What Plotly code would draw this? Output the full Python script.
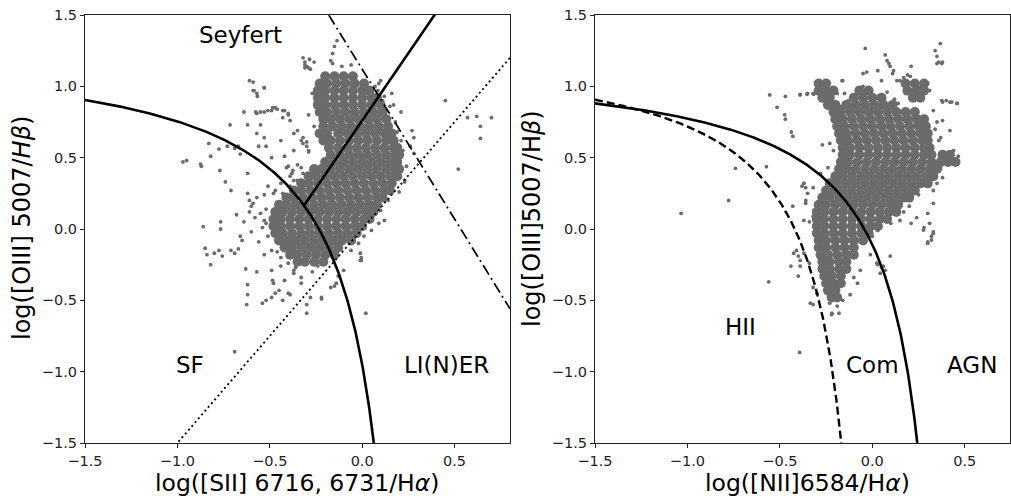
import numpy as np
import plotly.graph_objects as go

# ---------------- data ----------------
# Left panel (SII BPT): dense core, one list of x per row
left_core_y = [1.07, 1.02, 0.97, 0.92, 0.87, 0.82, 0.77, 0.72, 0.67, 0.62, 0.57, 0.52, 0.47,
               0.42, 0.37, 0.32, 0.27, 0.22, 0.17, 0.12, 0.07, 0.02, -0.03, -0.08, -0.13, -0.18, -0.23]
left_core_x = [
    [-0.20, -0.15, -0.10, -0.05],
    [-0.23, -0.19, -0.14, -0.09, -0.04, 0.01],
    [-0.24, -0.20, -0.15, -0.10, -0.05, 0.00, 0.04],
    [-0.24, -0.20, -0.15, -0.10, -0.05, 0.00, 0.05, 0.08],
    [-0.24, -0.20, -0.15, -0.10, -0.05, 0.00, 0.05, 0.10],
    [-0.23, -0.19, -0.14, -0.09, -0.04, 0.01, 0.06, 0.11],
    [-0.21, -0.17, -0.12, -0.07, -0.02, 0.03, 0.08, 0.13],
    [-0.21, -0.16, -0.11, -0.06, -0.01, 0.04, 0.09, 0.14],
    [-0.23, -0.19, -0.13, -0.08, -0.03, 0.02, 0.07, 0.12, 0.16],
    [-0.21, -0.17, -0.12, -0.07, -0.02, 0.03, 0.08, 0.13, 0.17],
    [-0.18, -0.13, -0.08, -0.03, 0.02, 0.07, 0.12, 0.17, 0.19],
    [-0.17, -0.12, -0.07, -0.02, 0.03, 0.08, 0.13, 0.18, 0.20],
    [-0.20, -0.15, -0.10, -0.05, 0.00, 0.05, 0.10, 0.15, 0.19],
    [-0.26, -0.22, -0.17, -0.12, -0.07, -0.02, 0.03, 0.08, 0.13, 0.18, 0.20],
    [-0.29, -0.25, -0.20, -0.15, -0.10, -0.05, 0.00, 0.05, 0.10, 0.15, 0.19],
    [-0.33, -0.29, -0.24, -0.19, -0.14, -0.09, -0.04, 0.01, 0.06, 0.11, 0.16],
    [-0.37, -0.33, -0.28, -0.23, -0.18, -0.13, -0.08, -0.03, 0.02, 0.07, 0.12, 0.15],
    [-0.41, -0.37, -0.32, -0.27, -0.22, -0.17, -0.12, -0.07, -0.02, 0.03, 0.08, 0.11],
    [-0.45, -0.41, -0.36, -0.31, -0.26, -0.21, -0.16, -0.11, -0.06, -0.01, 0.04, 0.08],
    [-0.47, -0.43, -0.38, -0.33, -0.28, -0.23, -0.18, -0.13, -0.08, -0.03, 0.02, 0.06],
    [-0.48, -0.44, -0.39, -0.34, -0.29, -0.24, -0.19, -0.14, -0.09, -0.04, 0.01, 0.04],
    [-0.48, -0.44, -0.39, -0.34, -0.29, -0.24, -0.19, -0.14, -0.09, -0.04, 0.00],
    [-0.47, -0.43, -0.38, -0.33, -0.28, -0.23, -0.18, -0.13, -0.08, -0.03],
    [-0.45, -0.41, -0.36, -0.31, -0.26, -0.21, -0.16, -0.11, -0.06],
    [-0.42, -0.38, -0.33, -0.28, -0.23, -0.18, -0.13],
    [-0.39, -0.35, -0.30, -0.25, -0.20, -0.15],
    [-0.35, -0.31, -0.26, -0.21],
]
# Left panel: isolated points
left_pts_x = [-0.97, -0.95, -0.875, -0.87, -0.83, -0.82, -0.77, -0.775, -0.73, -0.715, -0.74, -0.71,
              -0.69, -0.67, -0.66, -0.64, -0.62, -0.62, -0.61, -0.59, -0.585, -0.567, -0.53,
              -0.576, -0.55, -0.51, -0.485, -0.46, -0.43, -0.40, -0.56, -0.55, -0.62, -0.61, -0.60,
              -0.766, -0.766, -0.86, -0.85, -0.84, -0.80, -0.775, -0.757, -0.71, -0.69, -0.67, -0.82,
              -0.62, -0.62, -0.625, -0.69, -0.485, -0.45, -0.40, -0.37, -0.33, -0.52, -0.47, -0.43,
              -0.30, -0.22, -0.15, -0.13, -0.01, -0.01, 0.45, 0.57, 0.62, 0.64, 0.64, 0.70, 0.52,
              0.19, 0.21, 0.26, 0.28, 0.10, 0.085, 0.11, -0.136, -0.15, -0.16, -0.17,
              -0.32, -0.31, -0.30, -0.28, -0.31, -0.285, -0.37, -0.33, -0.32, -0.30, -0.29,
              -0.42, -0.40, -0.38, -0.37, -0.51, -0.48, -0.46,
              -0.53, -0.49, -0.46, -0.42, -0.37, -0.56, -0.49, -0.44, -0.37, -0.33, -0.42, -0.48,
              -0.49, -0.39, -0.28, -0.22, -0.17, -0.54, -0.30, 0.02,
              -0.59, -0.57, -0.53, -0.55, -0.52, -0.54, -0.39, -0.35, -0.32, -0.44, -0.47,
              -0.005, -0.005, -0.10, -0.14, 0.23, 0.12, 0.09, 0.05, 0.01, -0.02, -0.06,
              -0.57, -0.53, -0.49, -0.47, -0.42, -0.40, -0.39, -0.43, -0.59, -0.53, -0.57, -0.57,
              -0.53, -0.52, -0.44, -0.49, -0.37, -0.35, -0.32, -0.30, -0.29, -0.41, -0.375, -0.33,
              -0.31, -0.29, -0.26, -0.16, -0.11, -0.06, 0.09, 0.16, 0.17, 0.21, 0.27, 0.28,
              -0.64, -0.58, -0.66, -0.60, -0.68, -0.63, -0.57, -0.65, -0.61,
              -0.27, -0.29, -0.26, 0.07, 0.12, 0.15, 0.18, 0.22, 0.24, 0.23, 0.20, 0.14, 0.10,
              -0.35, -0.39, -0.43, -0.52, -0.53, -0.51, -0.44, -0.40, -0.36, -0.33, -0.27, -0.24]
left_pts_y = [0.47, 0.48, 0.455, 0.44, 0.60, 0.51, 0.41, 0.56, 0.58, 0.73, 0.33, 0.27,
              0.565, 0.58, 0.525, 0.82, 0.73, 0.39, 1.04, 1.03, 0.97, 0.93, 0.99,
              0.82, 0.82, 0.83, 0.85, 0.84, 0.83, 0.80, 0.58, 0.73, 0.25, 0.20, 0.16,
              0.05, 0.0, 0.016, -0.135, -0.18, -0.17, -0.15, -0.19, -0.15, -0.17, -0.14, -0.25,
              -0.39, -0.46, -0.53, -0.86, -0.36, -0.43, -0.45, -0.31, -0.38, -0.50, -0.45, -0.50,
              -0.59, -0.49, -0.40, -0.33, -0.22, -0.17, 0.90, 0.78, 0.79, 0.72, 0.635, 0.78, 0.42,
              0.68, 0.62, 0.58, 0.53, 1.04, 0.97, 0.90, 1.32, 1.28, 1.23, 1.18,
              1.20, 1.17, 1.14, 1.12, 1.13, 1.19, 0.67, 0.62, 0.60, 0.58, 0.55,
              0.51, 0.44, 0.39, 0.34, 0.30, 0.25, 0.16,
              -0.18, -0.15, -0.16, -0.15, -0.13, -0.09, -0.29, -0.26, -0.29, -0.34, -0.36, -0.38,
              -0.48, -0.46, -0.48, -0.48, -0.41, -0.52, -0.53, -0.59,
              0.18, 0.22, 0.24, 0.11, 0.04, 0.01, 0.37, 0.34, 0.39, 0.32, 0.27,
              -0.20, -0.22, -0.29, -0.38, 0.34, 0.06, 0.04, -0.01, -0.05, -0.10, -0.15,
              0.81, 0.82, 0.83, 0.85, 0.83, 0.81, 0.76, 0.78, 0.97, 0.99, 0.95, 0.67,
              0.64, 0.58, 0.62, 0.50, 0.55, 0.69, 0.64, 0.61, 0.54, 0.43, 0.41, 0.43,
              1.15, 1.13, 1.17, 1.16, 1.14, 1.15, 1.02, 0.95, 0.87, 0.82, 0.69, 0.64,
              0.05, 0.08, -0.05, -0.02, 0.10, -0.28, -0.30, -0.08, 0.12,
              0.95, 0.80, 0.72, 1.00, 0.93, 0.86, 0.75, 0.55, 0.44, 0.33, 0.26, 0.20, 0.13,
              0.45, 0.30, 0.25, 0.14, 0.06, -0.05, -0.20, -0.24, -0.27, -0.22, -0.30, -0.26]

# Right panel (NII BPT): dense core, one list of x per row
right_core_y = [1.02, 0.97, 0.92, 0.87, 0.82, 0.77, 0.72, 0.67, 0.62, 0.57, 0.52, 0.47, 0.42,
                0.37, 0.32, 0.27, 0.22, 0.17, 0.12, 0.07, 0.02, -0.03, -0.08, -0.13, -0.18,
                -0.23, -0.28, -0.33, -0.38, -0.43, -0.48]
right_core_x = [
    [-0.29, -0.25, 0.18, 0.23, 0.28],
    [-0.29, -0.25, -0.21, -0.07, -0.02, 0.19, 0.24, 0.28],
    [-0.27, -0.23, -0.10, -0.05, 0.00, 0.05, 0.22, 0.26],
    [-0.24, -0.20, -0.14, -0.09, -0.04, 0.01, 0.06, 0.11],
    [-0.21, -0.17, -0.12, -0.07, -0.02, 0.03, 0.08, 0.13, 0.18, 0.23],
    [-0.20, -0.16, -0.11, -0.06, -0.01, 0.04, 0.09, 0.14, 0.19, 0.24, 0.28],
    [-0.19, -0.15, -0.10, -0.05, 0.00, 0.05, 0.10, 0.15, 0.20, 0.25, 0.29],
    [-0.18, -0.14, -0.09, -0.04, 0.01, 0.06, 0.11, 0.16, 0.21, 0.26, 0.30],
    [-0.17, -0.13, -0.08, -0.03, 0.02, 0.07, 0.12, 0.17, 0.22, 0.27, 0.30],
    [-0.16, -0.12, -0.07, -0.02, 0.03, 0.08, 0.13, 0.18, 0.23, 0.28, 0.31],
    [-0.16, -0.12, -0.07, -0.02, 0.03, 0.08, 0.13, 0.18, 0.23, 0.28, 0.32, 0.38, 0.42],
    [-0.17, -0.13, -0.08, -0.03, 0.02, 0.07, 0.12, 0.17, 0.22, 0.27, 0.32, 0.37, 0.41, 0.45],
    [-0.18, -0.14, -0.09, -0.04, 0.01, 0.06, 0.11, 0.16, 0.21, 0.26, 0.31, 0.35],
    [-0.20, -0.16, -0.11, -0.06, -0.01, 0.04, 0.09, 0.14, 0.19, 0.24, 0.29, 0.33],
    [-0.23, -0.19, -0.14, -0.09, -0.04, 0.01, 0.06, 0.11, 0.16, 0.21, 0.26, 0.30],
    [-0.25, -0.21, -0.16, -0.11, -0.06, -0.01, 0.04, 0.09, 0.14, 0.19, 0.23],
    [-0.27, -0.23, -0.18, -0.13, -0.08, -0.03, 0.02, 0.07, 0.12, 0.17, 0.20],
    [-0.29, -0.25, -0.20, -0.15, -0.10, -0.05, 0.00, 0.05, 0.10, 0.14],
    [-0.30, -0.26, -0.21, -0.16, -0.11, -0.06, -0.01, 0.04, 0.09, 0.13],
    [-0.30, -0.26, -0.21, -0.16, -0.11, -0.06, -0.01, 0.04, 0.08],
    [-0.30, -0.26, -0.21, -0.16, -0.11, -0.06, -0.01, 0.03],
    [-0.30, -0.26, -0.21, -0.16, -0.11, -0.06, -0.02],
    [-0.29, -0.25, -0.20, -0.15, -0.10, -0.05],
    [-0.29, -0.25, -0.20, -0.15, -0.10],
    [-0.28, -0.24, -0.19, -0.14, -0.10],
    [-0.27, -0.23, -0.18, -0.14],
    [-0.27, -0.23, -0.18, -0.14],
    [-0.26, -0.22, -0.17],
    [-0.25, -0.21, -0.17],
    [-0.24, -0.20],
    [-0.22, -0.19],
]
# Right panel: isolated points
right_pts_x = [-1.034, -0.777, -0.74, -0.573, -0.56, -0.393, -0.515, -0.474, -0.47, -0.438, -0.43,
               -0.555, -0.47, -0.39, -0.353, -0.317, -0.038, -0.164, -0.03,
               0.34, 0.35, 0.368, 0.376, 0.36, 0.376, 0.40, 0.43, 0.458,
               0.33, 0.32, 0.30, 0.277, 0.06, 0.043, 0.025, 0.097, -0.37, -0.38, -0.36,
               -0.425, -0.40, -0.39, -0.44, -0.335, -0.218, -0.19,
               0.08, 0.097, 0.07, 0.115, 0.133, 0.17, 0.205, 0.23,
               -0.35, -0.32, -0.26, -0.25, -0.23, -0.19, -0.16, -0.15, -0.12, -0.10, -0.05, -0.05,
               0.0, 0.03, 0.05, 0.09, 0.11, 0.15, 0.19, 0.21, 0.23, 0.26, 0.30, 0.31, 0.35, 0.38,
               0.38, 0.42, 0.46, 0.33, 0.35, 0.38, 0.42, 0.37, 0.44, 0.465, 0.40, 0.37, 0.33,
               -0.23, -0.21, -0.27, -0.24, -0.28, -0.32, -0.36, -0.39,
               -0.37, -0.35, -0.36, -0.37, -0.34, -0.32, -0.43, -0.41, -0.37, -0.39, -0.34, -0.40,
               -0.32, -0.30, -0.32, -0.22, -0.18, -0.23, -0.16, -0.12, -0.08, -0.10, -0.065,
               -0.01, 0.03, 0.07, 0.05, 0.0, 0.03, 0.10, 0.15, 0.21, 0.28, 0.31, 0.32, 0.30, 0.33,
               0.33, 0.30, 0.24, 0.35, 0.38,
               -0.13, -0.17, -0.02, 0.03, 0.08, 0.12, 0.14, 0.34, 0.36, 0.33, 0.25, 0.20, 0.17]
right_pts_y = [0.11, 0.20, 0.425, 0.437, -0.37, -0.865, 0.853, 0.80, 0.77, 0.68, 0.65,
               0.94, 0.93, 0.944, 0.944, 0.944, 1.266, 1.04, 1.10,
               1.25, 1.21, 1.30, 1.16, 1.17, 0.90, 0.90, 0.89, 0.88,
               -0.03, -0.077, -0.10, -0.007, -0.26, -0.31, -0.24, -0.19, 0.32, 0.30, 0.20,
               -0.17, -0.19, -0.26, -0.26, -0.52, -0.59, -0.54,
               1.18, 1.14, 1.22, 1.11, 1.04, 1.06, 1.07, 1.03,
               0.95, 0.95, 1.02, 0.97, 0.93, 0.95, 1.04, 0.95, 0.83, 0.79, 1.09, 1.0,
               0.93, 1.11, 1.04, 1.16, 1.09, 1.04, 1.08, 1.14, 1.02, 0.99, 1.02, 0.97, 1.16, 1.17,
               0.89, 0.89, 0.88, 0.83, 0.75, 0.76, 0.69, 0.64, 0.55, 0.51, 0.48, 0.43, 0.39,
               0.60, 0.55, 0.59, 0.43, 0.39, 0.29, 0.29, 0.94,
               0.32, 0.25, 0.18, 0.06, 0.05, 0.09, 0.16, -0.15, -0.17, -0.22, -0.24, -0.33,
               -0.41, -0.45, -0.53, -0.60, -0.59, -0.52, -0.50, -0.46, -0.38, -0.34, -0.29,
               -0.18, -0.25, -0.29, -0.27, -0.05, -0.01, 0.04, 0.06, 0.04, 0.01, 0.04, -0.05, -0.09, -0.02,
               0.18, 0.11, 0.08, 0.32, 0.36,
               0.90, 0.86, 0.96, 0.93, 0.96, 0.91, 0.88, 0.70, 0.62, 0.27, 0.24, 0.16, 0.12]

# Demarcation-line coefficients (published relations)
kew06_sii = (0.72, 0.32, 1.30)      # y = a/(x-b)+c
sey_liner = (1.89, 0.76)            # y = m x + q
dashdot_line = (-2.1, 1.12)
dotted_line = (1.5, 0.0)
kew01_nii = (0.61, 0.47, 1.19)
kauf03_nii = (0.61, 0.05, 1.30)

ticks_x = [-1.5, -1.0, -0.5, 0.0, 0.5]
ticks_y = [-1.5, -1.0, -0.5, 0.0, 0.5, 1.0, 1.5]

left_labels = ["Seyfert", "SF", "LI(N)ER"]
left_label_x = [-0.66, -0.93, 0.457]
left_label_y = [1.36, -0.95, -0.95]
right_labels = ["HII", "Com", "AGN"]
right_label_x = [-0.713, 0.0, 0.54]
right_label_y = [-0.69, -0.95, -0.95]

# ---------------- figure ----------------
PT = "#6b6b6b"
fig = go.Figure()


def flatten(rows_y, rows_x):
    xs, ys = [], []
    for yy, row in zip(rows_y, rows_x):
        for xx in row:
            xs.append(xx)
            ys.append(yy)
    return xs, ys


def hyper(coef, x0, x1):
    a, b, c = coef
    y_end = -1.5
    x_end = b + a / (y_end - c)
    xs = np.linspace(x0, min(x1, x_end), 400)
    return xs, a / (xs - b) + c


lcx, lcy = flatten(left_core_y, left_core_x)
rcx, rcy = flatten(right_core_y, right_core_x)

CORE = 10
fig.add_trace(go.Scatter(x=lcx, y=lcy, mode="markers", xaxis="x", yaxis="y",
                         marker=dict(size=CORE, color=PT, line=dict(width=0)), hoverinfo="skip"))
fig.add_trace(go.Scatter(x=left_pts_x, y=left_pts_y, mode="markers", xaxis="x", yaxis="y",
                         marker=dict(size=3.8, color=PT, line=dict(width=0))))
fig.add_trace(go.Scatter(x=rcx, y=rcy, mode="markers", xaxis="x2", yaxis="y2",
                         marker=dict(size=CORE, color=PT, line=dict(width=0)), hoverinfo="skip"))
fig.add_trace(go.Scatter(x=right_pts_x, y=right_pts_y, mode="markers", xaxis="x2", yaxis="y2",
                         marker=dict(size=3.8, color=PT, line=dict(width=0))))

# Left panel lines
xk, yk = hyper(kew06_sii, -1.5, 0.3)
fig.add_trace(go.Scatter(x=xk, y=yk, mode="lines", xaxis="x", yaxis="y",
                         line=dict(color="black", width=2.6)))
xs_grid = np.linspace(-0.6, 0.0, 6001)
diff = sey_liner[0] * xs_grid + sey_liner[1] - (kew06_sii[0] / (xs_grid - kew06_sii[1]) + kew06_sii[2])
x_start = xs_grid[np.argmin(np.abs(diff))]
xl = np.array([x_start, 0.5])
fig.add_trace(go.Scatter(x=xl, y=sey_liner[0] * xl + sey_liner[1], mode="lines", xaxis="x", yaxis="y",
                         line=dict(color="black", width=2.6)))
xd = np.array([-0.3, 0.8])
fig.add_trace(go.Scatter(x=xd, y=dashdot_line[0] * xd + dashdot_line[1], mode="lines", xaxis="x", yaxis="y",
                         line=dict(color="black", width=1.7, dash="11px,4px,2px,4px")))
xo = np.array([-1.1, 0.8])
fig.add_trace(go.Scatter(x=xo, y=dotted_line[0] * xo + dotted_line[1], mode="lines", xaxis="x", yaxis="y",
                         line=dict(color="black", width=1.8, dash="2px,3px")))

# Right panel lines
xk1, yk1 = hyper(kew01_nii, -1.5, 0.45)
fig.add_trace(go.Scatter(x=xk1, y=yk1, mode="lines", xaxis="x2", yaxis="y2",
                         line=dict(color="black", width=2.6)))
xk3, yk3 = hyper(kauf03_nii, -1.5, 0.04)
fig.add_trace(go.Scatter(x=xk3, y=yk3, mode="lines", xaxis="x2", yaxis="y2",
                         line=dict(color="black", width=2.4, dash="8px,4px")))

tick_text_x = [("\u2212" if v < 0 else "") + f"{abs(v):.1f}" for v in ticks_x]
tick_text_y = [("\u2212" if v < 0 else "") + f"{abs(v):.1f}" for v in ticks_y]

axis_common = dict(showline=True, linecolor="#222", linewidth=1.2, mirror=True,
                   ticks="outside", ticklen=4, tickwidth=1, tickcolor="#222",
                   showgrid=False, zeroline=False, automargin=False,
                   tickfont=dict(family="DejaVu Sans", size=14.5, color="#222"))

fig.update_layout(
    width=1011, height=496,
    margin=dict(l=0, r=0, t=0, b=0),
    paper_bgcolor="white", plot_bgcolor="white",
    showlegend=False,
    xaxis=dict(domain=[85 / 1011, 510 / 1011], range=[-1.5, 0.8], tickvals=ticks_x,
               ticktext=tick_text_x, anchor="y", **axis_common),
    yaxis=dict(domain=[53 / 496, 481 / 496], range=[-1.5, 1.5], tickvals=ticks_y,
               ticktext=tick_text_y, anchor="x", **axis_common),
    xaxis2=dict(domain=[595 / 1011, 1010 / 1011], range=[-1.5, 0.745], tickvals=ticks_x,
                ticktext=tick_text_x, anchor="y2", **axis_common),
    yaxis2=dict(domain=[53 / 496, 481 / 496], range=[-1.5, 1.5], tickvals=ticks_y,
                ticktext=tick_text_y, anchor="x2", **axis_common),
)

label_font = dict(family="DejaVu Sans", size=23, color="black")
ann = []
for t, x, y in zip(left_labels, left_label_x, left_label_y):
    ann.append(dict(text=t, x=x, y=y, xref="x", yref="y", showarrow=False,
                    xanchor="center", yanchor="middle", font=label_font))
for t, x, y in zip(right_labels, right_label_x, right_label_y):
    ann.append(dict(text=t, x=x, y=y, xref="x2", yref="y2", showarrow=False,
                    xanchor="center", yanchor="middle", font=label_font))

xt_font = dict(family="DejaVu Sans", size=23.5, color="black")
yt_font = dict(family="DejaVu Sans", size=24, color="black")
ann += [
    dict(text="log([SII] 6716, 6731/H<i>α</i>)", x=297 / 1011, y=(496 - 483) / 496,
         xref="paper", yref="paper", showarrow=False, xanchor="center", yanchor="middle",
         font=xt_font),
    dict(text="log([NII]6584/H<i>α</i>)", x=807 / 1011, y=(496 - 483) / 496,
         xref="paper", yref="paper", showarrow=False, xanchor="center", yanchor="middle",
         font=xt_font),
    dict(text="log([OIII] 5007/<i>Hβ</i>)", x=22 / 1011, y=(496 - 228) / 496,
         xref="paper", yref="paper", showarrow=False, textangle=-90,
         xanchor="center", yanchor="middle", font=yt_font),
    dict(text="log([OIII]5007/H<i>β</i>)", x=532 / 1011, y=(496 - 219) / 496,
         xref="paper", yref="paper", showarrow=False, textangle=-90,
         xanchor="center", yanchor="middle", font=yt_font),
]
fig.update_layout(annotations=ann)

fig.write_html("out.html", config={"displayModeBar": False},
               post_script="document.body.style.margin='0px';")
